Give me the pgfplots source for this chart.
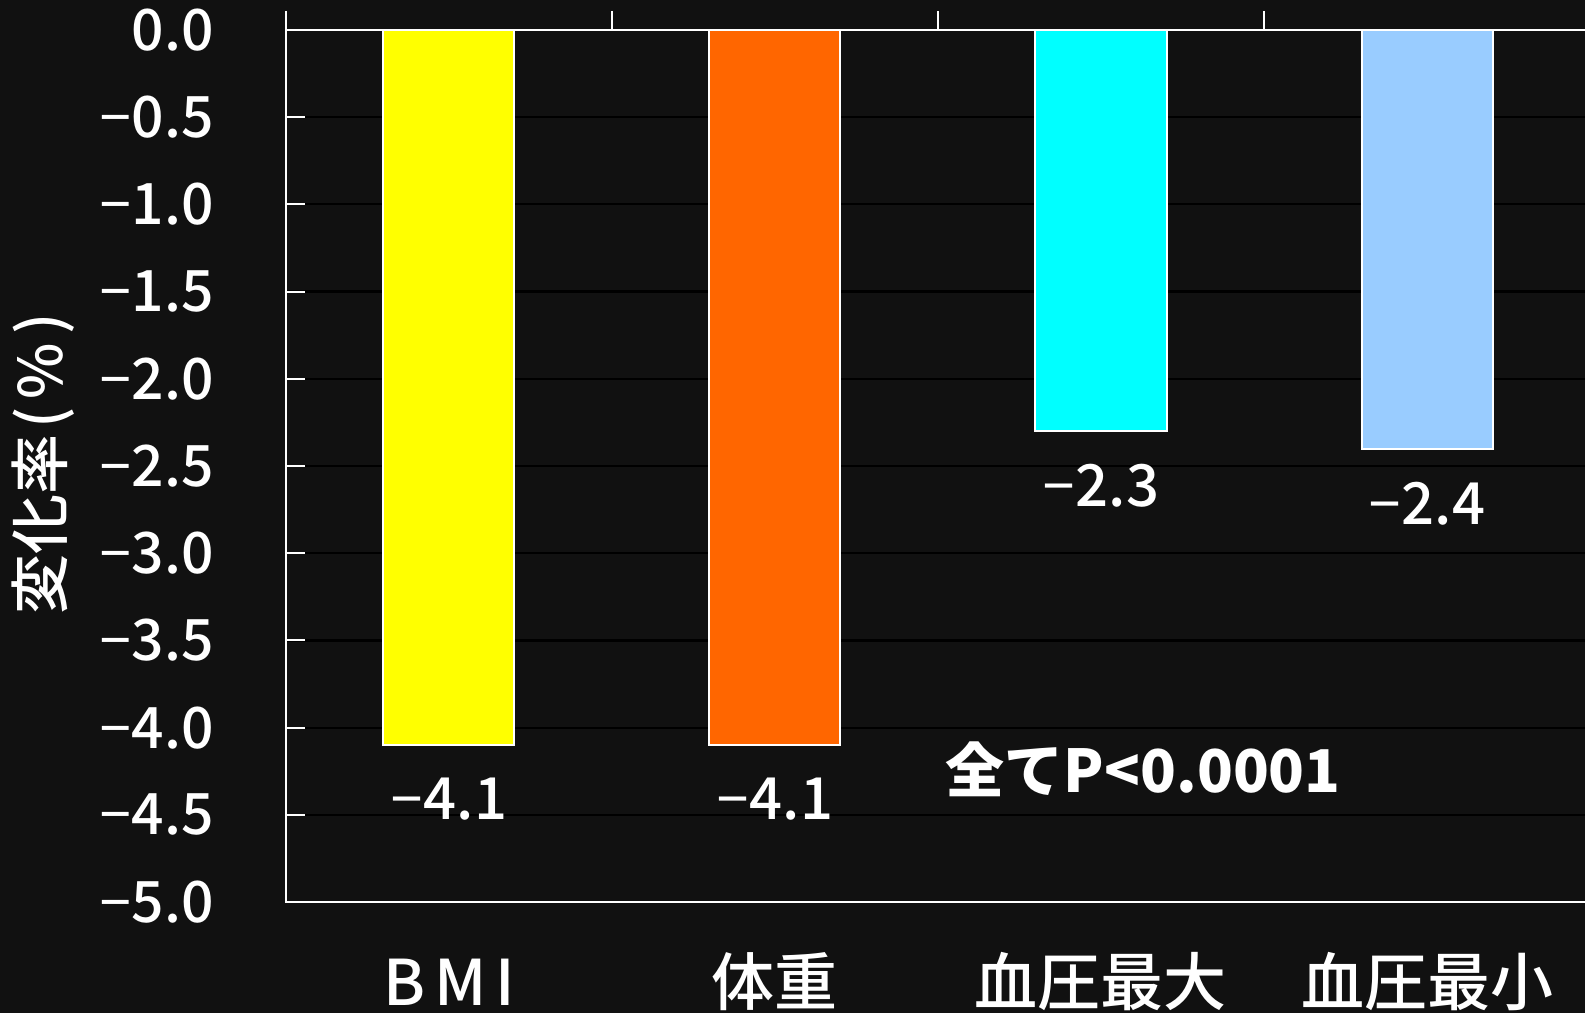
\documentclass[border=0pt]{standalone}
\usepackage{pgfplots}
\pgfplotsset{compat=1.18}
\usepackage{fontspec}
\IfFontExistsTF{Noto Sans CJK JP Medium}
  {\setmainfont{Noto Sans CJK JP Medium}}
  {\setmainfont{Noto Sans CJK JP}}
\newfontfamily\pfont{Noto Sans CJK JP}
\newfontfamily\nsans{Noto Sans}
\newcommand\mn{{\nsans −}}
\definecolor{bgc}{HTML}{111111}
\definecolor{cy}{HTML}{FFFF00}
\definecolor{co}{HTML}{FF6600}
\definecolor{cc}{HTML}{00FFFF}
\definecolor{cb}{HTML}{99CCFF}
\begin{document}
\begin{tikzpicture}
\fill[bgc] (-143pt,-55.5pt) rectangle (649.5pt,451pt);
\begin{axis}[
  at={(0,0)}, anchor=south west,
  scale only axis, width=652pt, height=436pt,
  xmin=-0.5, xmax=3.5, ymin=-5, ymax=0,
  clip=false,
  axis line style={white, line width=1pt},
  xtick={-0.5,0.5,1.5,2.5}, xticklabels={},
  xtick pos=right, xtick align=outside,
  ytick={-5,-4.5,-4,-3.5,-3,-2.5,-2,-1.5,-1,-0.5,0},
  yticklabels={\mn5.0,\mn4.5,\mn4.0,\mn3.5,\mn3.0,\mn2.5,\mn2.0,\mn1.5,\mn1.0,\mn0.5,0.0},
  ytick pos=left, ytick align=inside,
  major tick length=9.5pt,
  tick style={white, line width=1pt},
  ymajorgrids, major grid style={black, line width=1.1pt},
  yticklabel style={font=\fontsize{28.5}{30}\selectfont, text=white, anchor=east, inner sep=0pt, xshift=-36pt},
]
\addplot[ybar, bar width=65.5pt, bar shift=0pt, fill=cy, draw=white, line width=1pt] coordinates {(0,-4.1)};
\addplot[ybar, bar width=65.5pt, bar shift=0pt, fill=co, draw=white, line width=1pt] coordinates {(1,-4.1)};
\addplot[ybar, bar width=65.5pt, bar shift=0pt, fill=cc, draw=white, line width=1pt] coordinates {(2,-2.3)};
\addplot[ybar, bar width=65.5pt, bar shift=0pt, fill=cb, draw=white, line width=1pt] coordinates {(3,-2.4)};
\begin{scope}[every node/.style={anchor=north, inner sep=0pt, text=white, font=\fontsize{29}{30}\selectfont, yshift=-16.5pt}]
\node at (axis cs:0,-4.1) {\mn4.1};
\node at (axis cs:1,-4.1) {\mn4.1};
\node at (axis cs:2,-2.3) {\mn2.3};
\node at (axis cs:3,-2.4) {\mn2.4};
\end{scope}
\begin{scope}[every node/.style={anchor=base, inner sep=0pt, text=white, font=\fontsize{31.5}{33}\selectfont, yshift=-51.5pt}]
\node at (axis cs:0,-5) {B\hspace{4.5pt}M\hspace{4.5pt}I};
\node at (axis cs:1,-5) {体重};
\node at (axis cs:2,-5) {血圧最大};
\node at (axis cs:3,-5) {血圧最小};
\end{scope}
\node[anchor=base, inner sep=0pt, text=white, font=\pfont\bfseries\fontsize{29.5}{31}\selectfont] at (axis cs:2.13,-4.37) {全てP<0.0001};
\end{axis}
\node[rotate=90, inner sep=0pt, text=white, font=\fontsize{30}{31}\selectfont] at (-121.5pt,219pt) {変化率\hspace{3pt}(\hspace{4pt}\%\hspace{4pt})};
\pgfresetboundingbox
\useasboundingbox (-143pt,-55.5pt) rectangle (649.5pt,451pt);
\end{tikzpicture}
\end{document}
